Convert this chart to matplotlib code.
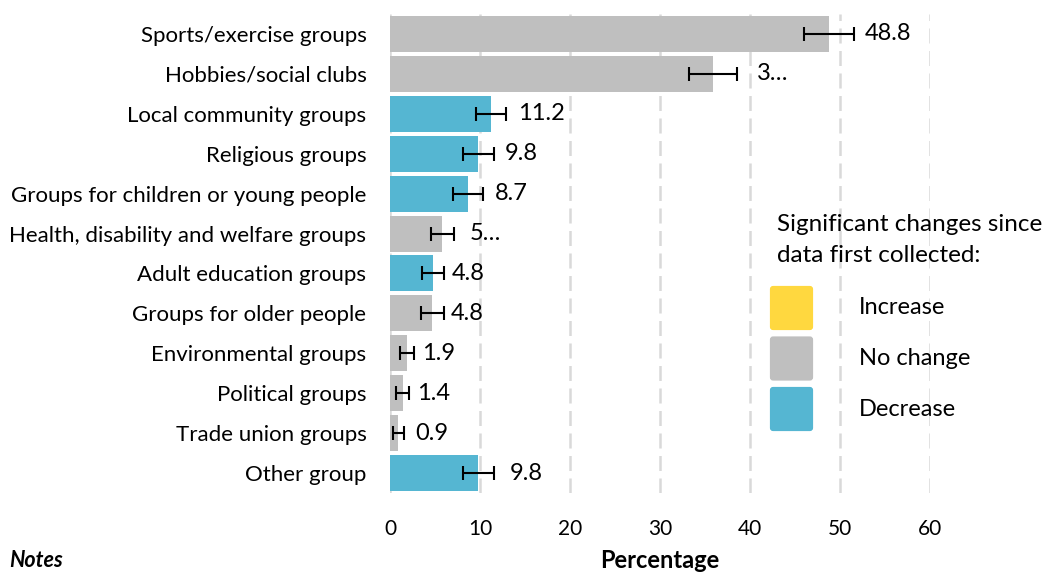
import matplotlib
matplotlib.use("Agg")
import matplotlib.pyplot as plt
from matplotlib.patches import FancyBboxPatch

plt.rcParams['font.family'] = ['Lato', 'DejaVu Sans']

categories = ["Sports/exercise groups", "Hobbies/social clubs", "Local community groups",
              "Religious groups", "Groups for children or young people",
              "Health, disability and welfare groups", "Adult education groups",
              "Groups for older people", "Environmental groups", "Political groups",
              "Trade union groups", "Other group"]
values = [48.8, 35.9, 11.2, 9.8, 8.7, 5.8, 4.8, 4.7, 1.9, 1.4, 0.9, 9.8]
errors = [2.75, 2.65, 1.7, 1.7, 1.65, 1.3, 1.25, 1.25, 0.8, 0.75, 0.6, 1.7]
labels = ["48.8", "3…", "11.2", "9.8", "8.7", "5…", "4.8", "4.8", "1.9", "1.4", "0.9", "9.8"]
status = ["No change", "No change", "Decrease", "Decrease", "Decrease", "No change",
          "Decrease", "No change", "No change", "No change", "No change", "Decrease"]
label_offsets = [1.2, 2.2, 1.3, 1.3, 1.3, 1.8, 0.8, 0.8, 0.9, 0.9, 1.3, 1.8]
legend_title = "Significant changes since\ndata first collected:"
legend_items = ["Increase", "No change", "Decrease"]
colors = {"Increase": "#FFD83F", "No change": "#BFBFBF", "Decrease": "#55B6D2"}
xticks = [0, 10, 20, 30, 40, 50, 60]

W, H = 1046, 572
fig = plt.figure(figsize=(W / 100, H / 100), dpi=100)
ax = fig.add_axes([390 / W, 1 - 493 / H, 540 / W, (493 - 14) / H])

y = list(range(len(categories)))
ax.barh(y, values, height=0.9, color=[colors[s] for s in status], zorder=2)
ax.errorbar(values, y, xerr=errors, fmt='none', ecolor='black', elinewidth=1.5,
            capsize=5, capthick=1.5, zorder=3)
for yi, v, e, lab, off in zip(y, values, errors, labels, label_offsets):
    ax.text(v + e + off, yi, lab, va='center', ha='left', fontsize=17, color='black')

ax.set_xlim(0, 60)
ax.set_ylim(len(categories) - 0.5, -0.5)
ax.set_yticks(y)
ax.set_yticklabels(categories, fontsize=16)
ax.set_xticks(xticks)
ax.set_xticklabels([str(t) for t in xticks], fontsize=15)
ax.tick_params(axis='both', length=0)
ax.tick_params(axis='y', pad=17)
ax.tick_params(axis='x', pad=19)
for s in ax.spines.values():
    s.set_visible(False)
ax.xaxis.grid(True, color='#D9D9D9', linestyle=(0, (6, 3)), linewidth=1.8, zorder=0)
ax.set_axisbelow(True)

# Legend drawn manually (figure pixel layout)
title_lines = legend_title.split("\n")
for i, line in enumerate(title_lines):
    fig.text(777 / W, 1 - (224 + 32 * i) / H, line, ha='left', va='center',
             fontsize=17.5)
for i, item in enumerate(legend_items):
    top = 286 + 50.5 * i
    box = FancyBboxPatch((772 / W, 1 - (top + 42) / H), 39 / W, 40 / H,
                         boxstyle="round,pad=0.002,rounding_size=0.003",
                         transform=fig.transFigure, facecolor=colors[item],
                         edgecolor='none', mutation_aspect=W / H)
    fig.add_artist(box)
    fig.text(859 / W, 1 - (top + 22) / H, item, ha='left', va='center', fontsize=17)

fig.text(660 / W, 1 - 561 / H, "Percentage", ha='center', va='center',
         fontsize=17, fontweight='bold')
fig.text(9 / W, 1 - 550 / H, "Notes", ha='left', va='top', fontsize=15.5,
         fontweight='bold', fontstyle='italic')

fig.savefig("out.png", dpi=100)
